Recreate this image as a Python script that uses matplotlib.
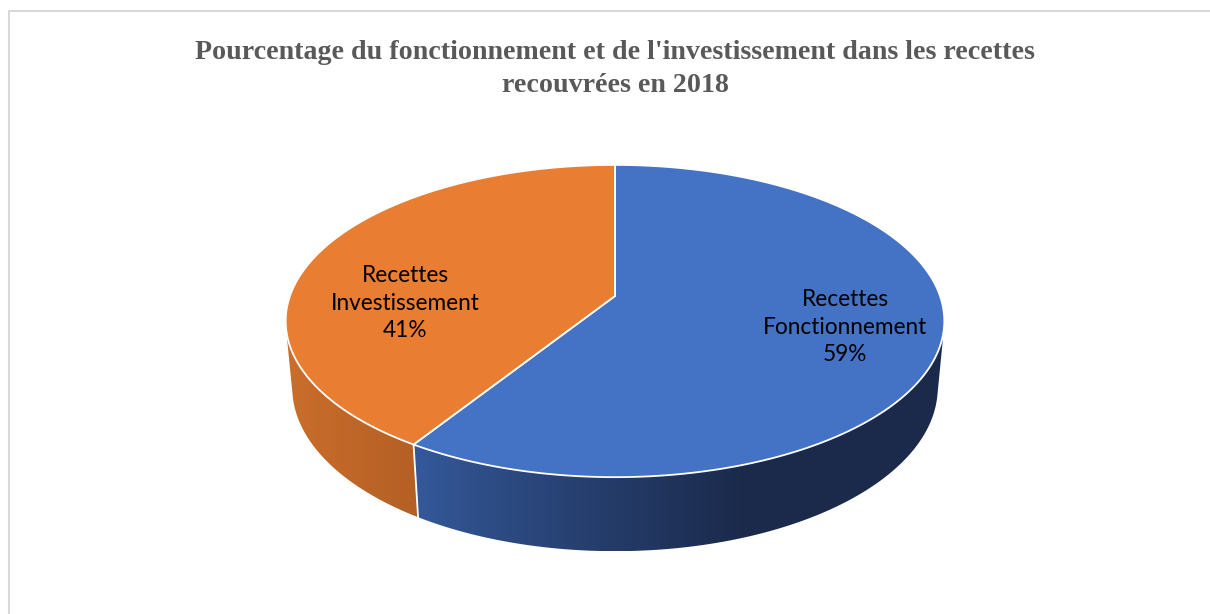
import numpy as np
import matplotlib
matplotlib.use("Agg")
import matplotlib.pyplot as plt
from matplotlib.patches import Polygon
from matplotlib.colors import to_rgb

title = "Pourcentage du fonctionnement et de l'investissement dans les recettes\nrecouvrées en 2018"
labels = ["Recettes\nFonctionnement", "Recettes\nInvestissement"]
values = [59, 41]
top_colors = ["#4472C4", "#E97D31"]
side_left = ["#34599B", "#CA6E2B"]
side_right = ["#1B2A4B", "#B45F25"]

# simple perspective camera for the 3D pie
CX, CY = 615, 296
F = 1791.0
D = 5.51
PHI = np.radians(27.9)
S, C = np.sin(PHI), np.cos(PHI)
H = 0.234


def project(theta, z, r=1.0):
    t = np.radians(theta)
    u = r * np.sin(t)
    v = r * np.cos(t)
    d = D + v * C - z * S
    return CX + F * u / d, CY - F * (v * S + z * C) / d


def arc(t0, t1, z, n=200):
    th = np.linspace(t0, t1, n)
    x, y = project(th, z)
    return np.column_stack([x, y])


fig = plt.figure(figsize=(12.1, 6.14), dpi=100)
ax = fig.add_axes([0, 0, 1, 1])
ax.set_xlim(0, 1210)
ax.set_ylim(614, 0)
ax.axis("off")

# chart frame
ax.plot([9, 9, 1212], [616, 11, 11], color="#D9D9D9", lw=1.5)

total = sum(values)
bounds = np.concatenate([[0], np.cumsum(values) / total * 360])

# visible side of the cylinder (silhouette)
v_sil = -1.0 / (D * C)
vis0 = np.degrees(np.arccos(v_sil))
vis1 = 360 - vis0

# side walls with horizontal gradient
for i in range(len(values)):
    a0, a1 = max(bounds[i], vis0), min(bounds[i + 1], vis1)
    if a1 <= a0:
        continue
    top = arc(a0, a1, 0)
    bot = arc(a1, a0, -H)
    pts = np.vstack([top, bot])
    poly = Polygon(pts, closed=True, facecolor="none", edgecolor="none")
    ax.add_patch(poly)
    x0, x1 = pts[:, 0].min(), pts[:, 0].max()
    y0, y1 = pts[:, 1].min(), pts[:, 1].max()
    c0 = np.array(to_rgb(side_left[i]))
    c1 = np.array(to_rgb(side_right[i]))
    w = np.linspace(0, 1, 256)
    if i == 0:
        w = np.clip(w * 1.6, 0, 1) ** 0.9
    grad = (c0[None, :] * (1 - w[:, None]) + c1[None, :] * w[:, None])[None, :, :]
    im = ax.imshow(grad, extent=[x0, x1, y1, y0], aspect="auto", interpolation="bilinear", zorder=1)
    im.set_clip_path(poly)
    # white seam between side walls
    if bounds[i] > vis0 and bounds[i] < vis1:
        xa, ya = project(bounds[i], 0)
        xb, yb = project(bounds[i], -H)
        ax.plot([xa, xb], [ya, yb], color="white", lw=1.3, zorder=2)

# top face
cx0, cy0 = project(0, 0, r=0)
for i in range(len(values)):
    pts = np.vstack([[cx0, cy0], arc(bounds[i], bounds[i + 1], 0)])
    ax.add_patch(Polygon(pts, closed=True, facecolor=top_colors[i], edgecolor="white", lw=1.3, zorder=3))

# data labels
label_pos = [(845, 327), (405, 303)]
for i in range(len(values)):
    ax.text(label_pos[i][0], label_pos[i][1], f"{labels[i]}\n{values[i]}%", ha="center", va="center",
            fontsize=16.3, family="Lato", color="black", linespacing=1.4, zorder=4)

ax.text(615, 69, title, ha="center", va="center", fontsize=20.2, fontweight="bold",
        family="Liberation Serif", color="#595959", linespacing=1.4)

fig.savefig("out.png", dpi=100)
